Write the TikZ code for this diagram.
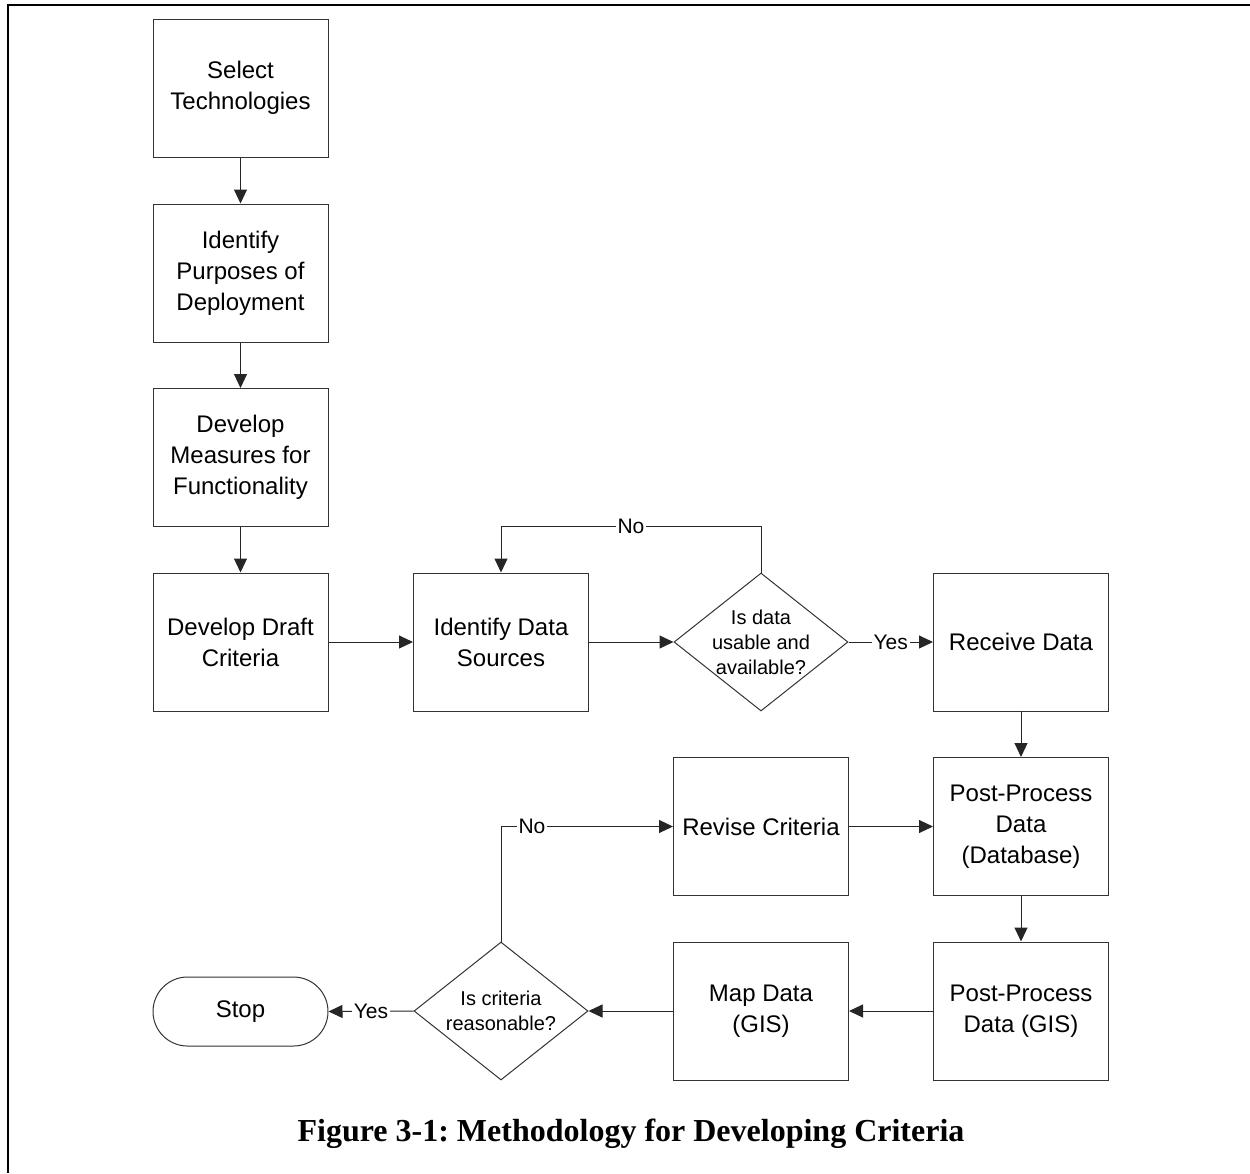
\documentclass[tikz,border=0pt]{standalone}
\usepackage{fontspec}
\setmainfont{Liberation Serif}
\newfontfamily\arialfont{Liberation Sans}
\usetikzlibrary{arrows.meta,shapes.geometric,shapes.misc}
\frenchspacing

\tikzset{
  box/.style={draw=black!80, line width=1pt, rectangle, minimum width=175pt,
    minimum height=138pt, inner sep=2pt, align=center,
    font=\arialfont\fontsize{24}{31}\selectfont},
  dia/.style={draw=black!80, line width=1pt, diamond, minimum width=174pt,
    minimum height=138pt, inner sep=0pt},
  dtext/.style={align=center, inner sep=0pt,
    font=\arialfont\fontsize{20}{25}\selectfont},
  term/.style={draw=black!80, line width=1pt, rounded rectangle,
    minimum width=175pt, minimum height=69pt, inner sep=0pt,
    font=\arialfont\fontsize{24}{31}\selectfont},
  conn/.style={draw=black!85, line width=1pt,
    -{Triangle[length=14pt,width=13pt]}},
  lab/.style={fill=white, inner sep=2pt,
    font=\arialfont\fontsize{21}{24}\selectfont},
  frame/.style={line width=2pt, black}
}

\begin{document}
\begin{tikzpicture}[x=1pt, y=-1pt]
  \useasboundingbox (0,0) rectangle (1250,1173);

  % page frame, top and left edges
  \draw[frame] (1250,5) -- (8,5) -- (8,1173);

  % process steps
  \node[box] (sel)   at (240.5,88)    {Select\\Technologies};
  \node[box] (purp)  at (240.5,273)   {Identify\\Purposes of\\Deployment};
  \node[box] (meas)  at (240.5,457.5) {Develop\\Measures for\\Functionality};
  \node[box] (draft) at (240.5,642)   {Develop Draft\\Criteria};
  \node[box] (src)   at (501,642)     {Identify Data\\Sources};
  \node[dia, label={[dtext]center:Is data\\usable and\\available?}] (d1) at (761,642) {};
  \node[box] (recv)  at (1021,642)    {Receive Data};
  \node[box] (ppdb)  at (1021,826.5)  {Post-Process\\Data\\(Database)};
  \node[box] (rev)   at (761,826.5)   {Revise Criteria};
  \node[box] (ppgis) at (1021,1011)   {Post-Process\\Data (GIS)};
  \node[box] (map)   at (761,1011)    {Map Data\\(GIS)};
  \node[dia, label={[dtext]center:Is criteria\\reasonable?}] (d2) at (501,1011) {};
  \node[term] (stop) at (240.5,1011.5) {Stop};

  % connectors
  \draw[conn] (sel) -- (purp);
  \draw[conn] (purp) -- (meas);
  \draw[conn] (meas) -- (draft);
  \draw[conn] (draft) -- (src);
  \draw[conn] (src) -- (d1.west);
  \draw[conn] (d1.north) -- ++(0,-46) -| node[lab, pos=0.25] {No} (src.north);
  \draw[conn] (d1.east) -- node[lab] {Yes} (recv.west);
  \draw[conn] (recv) -- (ppdb);
  \draw[conn] (ppdb) -- (ppgis);
  \draw[conn] (rev) -- (ppdb);
  \draw[conn] (ppgis) -- (map);
  \draw[conn] (map) -- (d2.east);
  \draw[conn] (d2.north) |- node[lab, pos=0.59] {No} (rev.west);
  \draw[conn] (d2.west) -- node[lab] {Yes} (stop.east);

  % caption
  \node[font=\bfseries\fontsize{32}{38}\selectfont] (cap) at (631,1134)
    {Figure 3-1: Methodology for Developing Criteria};
\end{tikzpicture}
\end{document}
